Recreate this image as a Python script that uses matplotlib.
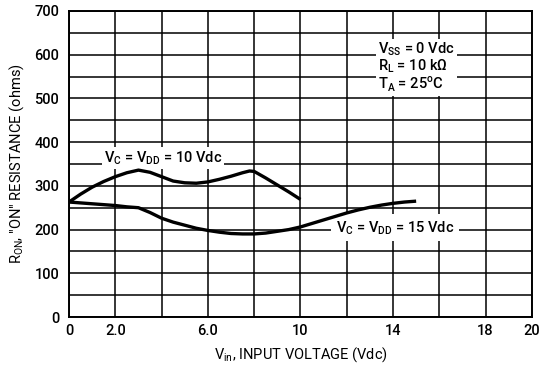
import matplotlib
matplotlib.use("Agg")
import matplotlib.pyplot as plt
from matplotlib.ticker import MultipleLocator

plt.rcParams['font.family'] = ['Roboto', 'DejaVu Sans']
plt.rcParams['font.weight'] = 'medium'

# Input voltage (Vdc) and on-resistance (ohms) for each supply condition
vin_10 = [0.0, 0.5, 1.0, 1.5, 2.0, 2.5, 3.0, 3.5, 4.0, 4.5, 5.0, 5.5, 6.0,
          6.5, 7.0, 7.5, 7.8, 8.0, 8.5, 9.0, 9.5, 10.0]
ron_10 = [263, 281, 297, 310, 321, 330, 336, 331, 321, 311, 307, 306, 309,
          315, 322, 330, 334, 333, 318, 302, 286, 269]

vin_15 = [0.0, 1.0, 2.0, 2.5, 3.0, 3.5, 4.0, 4.5, 5.0, 5.5, 6.0, 6.5, 7.0,
          7.5, 8.0, 8.5, 9.0, 9.5, 10.0, 10.5, 11.0, 11.5, 12.0, 12.5, 13.0,
          13.5, 14.0, 14.5, 15.0]
ron_15 = [263, 259, 255, 252, 250, 239, 226, 217, 210, 203, 198, 194, 191,
          190, 190, 192, 196, 200, 206, 214, 222, 230, 238, 245, 251,
          256, 260, 263, 265]

x_ticks = [0, 2, 4, 6, 8, 10, 12, 14, 16, 18, 20]
x_tick_labels = ['0', '2.0', '', '6.0', '', '10', '', '14', '', '18', '20']
y_ticks = [0, 100, 200, 300, 400, 500, 600, 700]
y_tick_labels = ['0', '100', '200', '300', '400', '500', '600', '700']


def sub(s):
    return r'$_{\mathregular{' + s + '}}$'


label_10 = 'V' + sub('C') + ' = V' + sub('DD') + ' = 10 Vdc'
label_15 = 'V' + sub('C') + ' = V' + sub('DD') + ' = 15 Vdc'
cond_lines = ['V' + sub('SS') + ' = 0 Vdc',
              'R' + sub('L') + ' = 10 k\u03a9',
              'T' + sub('A') + r' = 25$^{\mathregular{o}}$C']

fig = plt.figure(figsize=(5.5, 3.65), dpi=100)
ax = fig.add_axes([0.1255, 0.1315, 0.8415, 0.8384])

ax.set_xlim(0, 20)
ax.set_ylim(0, 700)
ax.set_xticks(x_ticks)
ax.set_xticklabels(x_tick_labels)
ax.set_yticks(y_ticks)
ax.set_yticklabels(y_tick_labels)
ax.yaxis.set_minor_locator(MultipleLocator(50))
ax.tick_params(which='both', length=0, labelsize=10.5, colors='black')
ax.tick_params(axis='x', pad=5)
ax.tick_params(axis='y', pad=7)

ax.set_axisbelow(True)
ax.grid(True, which='both', color='black', linewidth=1.1)
for s in ax.spines.values():
    s.set_linewidth(1.4)
    s.set_color('black')

ax.plot(vin_10, ron_10, color='black', linewidth=2.4, solid_capstyle='butt', zorder=4)
ax.plot(vin_15, ron_15, color='black', linewidth=2.4, solid_capstyle='butt', zorder=4)

ax.text(4.05, 364, label_10, ha='center', va='center', fontsize=10.5,
        bbox=dict(facecolor='white', edgecolor='none', pad=1.5), zorder=3)
ax.text(14.1, 204, label_15, ha='center', va='center', fontsize=10.5,
        bbox=dict(facecolor='white', edgecolor='none', pad=3.5), zorder=3)
ax.text(13.35, 572, '\n'.join(cond_lines), ha='left', va='center', fontsize=10.5,
        linespacing=0.95, bbox=dict(facecolor='white', edgecolor='none', pad=1.5),
        zorder=3)

ax.set_xlabel('V' + sub('in') + ', INPUT VOLTAGE (Vdc)', fontsize=10.5, labelpad=5)
ax.set_ylabel('R' + sub('ON') + ', "ON" RESISTANCE (ohms)', fontsize=10.5, labelpad=6)

fig.savefig('out.png', dpi=100)
